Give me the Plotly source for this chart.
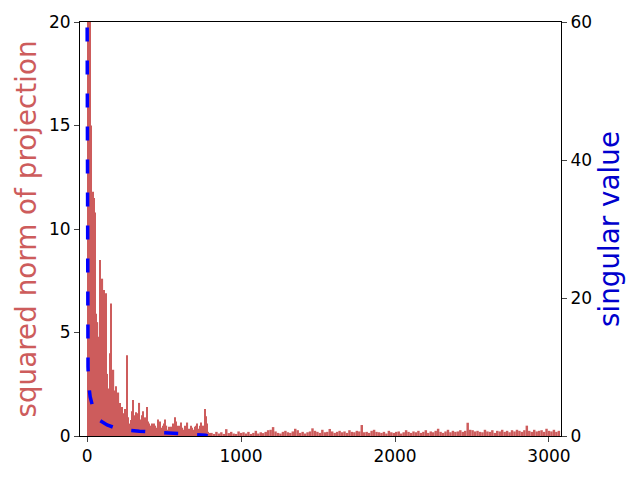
import plotly.graph_objects as go

# squared norm of projection, components 0-799 averaged in groups of 8
head_step = 8
proj_head = [30, 28, 24, 15, 11.8, 11.5, 10.8, 5.9, 5.5, 4.8,
             8.5, 5.0, 7.6, 7.05, 4.5, 6.9, 3.0, 2.3, 4.0, 6.4,
             2.5, 3.2, 2.2, 2.4, 1.9, 2.1, 1.6, 1.2, 1.4, 1.1,
             1.3, 0.7, 3.9, 0.9, 0.6, 0.77, 1.2, 1.74, 1.0, 1.15,
             1.1, 0.7, 1.6, 0.8, 1.0, 1.2, 0.6, 0.9, 1.4, 0.7,
             0.6, 0.5, 0.6, 0.4, 0.6, 0.5, 0.4, 0.8, 0.5, 0.7,
             0.4, 0.5, 0.6, 0.8, 0.5, 0.3, 0.45, 0.4, 0.45, 0.6,
             0.5, 0.9, 0.7, 0.5, 0.4, 0.5, 0.65, 0.4, 0.3, 0.5,
             0.4, 0.65, 0.35, 0.3, 0.5, 0.4, 0.3, 0.45, 0.5, 0.6,
             0.35, 0.5, 0.65, 0.4, 0.5, 1.3, 0.95, 0.6, 0.2, 0.15]
# components 800-3071 in groups of 16
tail_start = 800
tail_step = 16
proj_tail = [0.15, 0.1, 0.2, 0.12, 0.18, 0.1, 0.33, 0.14, 0.2, 0.12,
             0.1, 0.22, 0.15, 0.18, 0.12, 0.2, 0.1, 0.15, 0.25, 0.12,
             0.18, 0.14, 0.2, 0.28, 0.3, 0.43, 0.22, 0.15, 0.12, 0.2,
             0.25, 0.18, 0.15, 0.22, 0.35, 0.28, 0.15, 0.2, 0.12, 0.18,
             0.22, 0.37, 0.25, 0.2, 0.15, 0.3, 0.18, 0.2, 0.34, 0.22,
             0.15, 0.2, 0.25, 0.18, 0.22, 0.15, 0.28, 0.2, 0.18, 0.25,
             0.22, 0.53, 0.18, 0.2, 0.15, 0.25, 0.3, 0.2, 0.18, 0.15,
             0.2, 0.12, 0.25, 0.18, 0.15, 0.2, 0.22, 0.12, 0.18, 0.28,
             0.2, 0.15, 0.22, 0.18, 0.25, 0.15, 0.2, 0.28, 0.15, 0.22,
             0.18, 0.25, 0.35, 0.2, 0.15, 0.22, 0.3, 0.18, 0.25, 0.2,
             0.22, 0.28, 0.2, 0.25, 0.64, 0.3, 0.28, 0.22, 0.25, 0.2,
             0.18, 0.3, 0.22, 0.2, 0.28, 0.15, 0.25, 0.22, 0.3, 0.2,
             0.25, 0.18, 0.28, 0.22, 0.3, 0.25, 0.2, 0.28, 0.5, 0.25,
             0.2, 0.3, 0.22, 0.25, 0.28, 0.2, 0.35, 0.25, 0.22, 0.3,
             0.2, 0.25]

# singular values (read at selected component indices)
sv_index = [0, 1, 2, 3, 4, 6, 10, 20, 45, 80, 130, 210, 340, 430, 560, 640, 720, 770, 783]
sv_value = [64, 45, 30, 20, 14, 10, 7.5, 5.7, 3.5, 2.3, 1.6, 0.95, 0.7, 0.6, 0.45, 0.3, 0.2, 0.1, 0.0]

x_ticks = [0, 1000, 2000, 3000]
y_ticks = [0, 5, 10, 15, 20]
y2_ticks = [0, 20, 40, 60]

bar_x = [head_step * i + head_step / 2 for i in range(len(proj_head))] + \
        [tail_start + tail_step * k + tail_step / 2 for k in range(len(proj_tail))]
bar_w = [head_step] * len(proj_head) + [tail_step] * len(proj_tail)
bar_y = proj_head + proj_tail

fig = go.Figure()
fig.add_trace(go.Bar(x=bar_x, y=bar_y, width=bar_w,
                     marker=dict(color="indianred", line=dict(width=0)),
                     showlegend=False))
fig.add_trace(go.Scatter(x=sv_index, y=sv_value, mode="lines", yaxis="y2",
                         line=dict(color="blue", width=3.5, dash="14px,19px"),
                         showlegend=False))

font = "DejaVu Sans, sans-serif"
fig.update_layout(
    width=640, height=480,
    margin=dict(l=80, r=79, t=22, b=44),
    paper_bgcolor="white", plot_bgcolor="white",
    font=dict(family=font, size=17, color="black"),
    xaxis=dict(range=[-46, 3078], tickvals=x_ticks, ticks="outside", ticklen=5,
               tickwidth=1, showline=True, linecolor="black", linewidth=1,
               mirror=True, showgrid=False, zeroline=False, automargin=False),
    yaxis=dict(range=[0, 20], tickvals=y_ticks, ticks="outside", ticklen=5,
               showline=True, linecolor="black", linewidth=1, showgrid=False,
               zeroline=False, automargin=False,
               title=dict(text="squared norm of projection",
                          font=dict(size=27.8, color="indianred"), standoff=4)),
    yaxis2=dict(range=[0, 60], tickvals=y2_ticks, ticks="outside", ticklen=5,
                overlaying="y", side="right", showline=True, linecolor="black",
                linewidth=1, showgrid=False, zeroline=False, automargin=False,
                title=dict(text="singular value",
                           font=dict(size=27.8, color="mediumblue"), standoff=8)),
)

fig.write_html("out.html", config={"displayModeBar": False},
               post_script="document.body.style.margin='0';document.body.style.overflow='hidden';")
